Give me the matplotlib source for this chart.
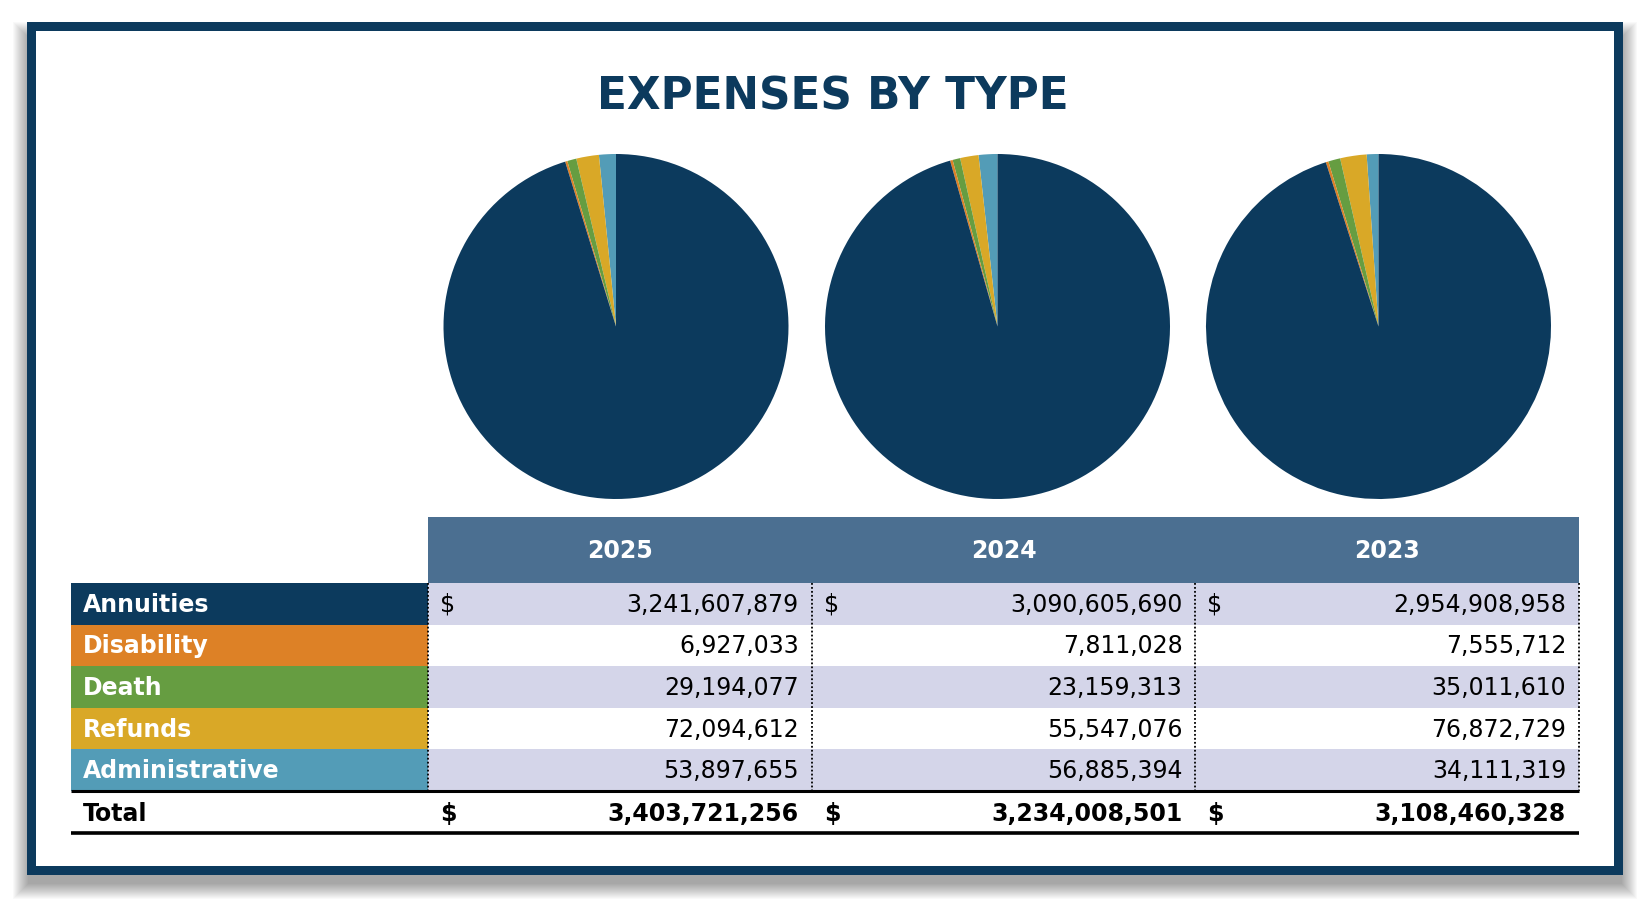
import matplotlib.pyplot as plt
from matplotlib.patches import Rectangle

# data
years = ['2025', '2024', '2023']
categories = ['Annuities', 'Disability', 'Death', 'Refunds', 'Administrative']
annuities = [3241607879, 3090605690, 2954908958]
disability = [6927033, 7811028, 7555712]
death = [29194077, 23159313, 35011610]
refunds = [72094612, 55547076, 76872729]
administrative = [53897655, 56885394, 34111319]
totals = [3403721256, 3234008501, 3108460328]

series = [annuities, disability, death, refunds, administrative]
colors = ['#0C3A5D', '#DD8126', '#669D41', '#D9A827', '#539CB7']
navy = '#0C3A5D'
header_color = '#4B6F91'
band_color = '#D4D5E9'

W, H = 1650, 916
fig = plt.figure(figsize=(W / 100, H / 100), dpi=100)
ax = fig.add_axes([0, 0, 1, 1])
ax.set_xlim(0, W)
ax.set_ylim(H, 0)
ax.axis('off')

# soft drop shadow behind the frame (stacked translucent rects)
fx0, fy0, fx1, fy1 = 27, 22, 1623, 875
for k in range(16, 0, -1):
    ax.add_patch(Rectangle((fx0 - k + 2, fy0 - k + 16), (fx1 - fx0) + 2 * k - 4, (fy1 - fy0) + 2 * k - 8,
                           facecolor='black', edgecolor='none', alpha=0.024, zorder=0))

# frame
ax.add_patch(Rectangle((fx0, fy0), fx1 - fx0, fy1 - fy0, facecolor=navy, edgecolor='none', zorder=1))
ax.add_patch(Rectangle((fx0 + 9, fy0 + 9), fx1 - fx0 - 18, fy1 - fy0 - 18, facecolor='white',
                       edgecolor='none', zorder=1))

ax.text(833, 97, 'EXPENSES BY TYPE', fontsize=31.5, fontweight='bold', color=navy,
        ha='center', va='center', zorder=3)

# pies
pie_cx = [616, 997.5, 1378.5]
pie_cy = 326.5
pie_r = 172.5
for i, cx in enumerate(pie_cx):
    pax = fig.add_axes([(cx - pie_r) / W, 1 - (pie_cy + pie_r) / H, 2 * pie_r / W, 2 * pie_r / H])
    vals = [s[i] for s in series][::-1]
    pax.pie(vals, colors=colors[::-1], startangle=90, counterclock=True, radius=1,
            wedgeprops=dict(linewidth=0))
    pax.set_xlim(-1, 1)
    pax.set_ylim(-1, 1)
    pax.set_aspect('equal')
    pax.axis('off')

# table
lx0 = 71
dx0 = 428
col_w = 383.7
hy0, hy1 = 517, 583
row_h = 41.6
fs = 17

ax.add_patch(Rectangle((dx0, hy0), 3 * col_w, hy1 - hy0, facecolor=header_color, edgecolor='none', zorder=2))
for j, yr in enumerate(years):
    ax.text(dx0 + (j + 0.5) * col_w, (hy0 + hy1) / 2 + 1, yr, fontsize=fs, fontweight='bold',
            color='white', ha='center', va='center', zorder=3)

for r, (cat, vals) in enumerate(zip(categories, series)):
    y0 = hy1 + r * row_h
    yc = y0 + row_h / 2 + 1
    ax.add_patch(Rectangle((lx0, y0), dx0 - lx0, row_h, facecolor=colors[r], edgecolor='none', zorder=2))
    ax.text(lx0 + 12, yc, cat, fontsize=fs, fontweight='bold', color='white', ha='left', va='center', zorder=3)
    if r % 2 == 0:
        ax.add_patch(Rectangle((dx0, y0), 3 * col_w, row_h, facecolor=band_color, edgecolor='none', zorder=2))
    for j in range(3):
        cx0 = dx0 + j * col_w
        if r == 0:
            ax.text(cx0 + 12, yc, '$', fontsize=fs, color='black', ha='left', va='center', zorder=3)
        ax.text(cx0 + col_w - 13, yc, f'{vals[j]:,}', fontsize=fs, color='black',
                ha='right', va='center', zorder=3)

body_bottom = hy1 + 5 * row_h
for j in range(4):
    x = dx0 + j * col_w
    ax.plot([x, x], [hy1, body_bottom], color='black', lw=1.3, linestyle=(0, (1, 1.2)), zorder=4)

tot_y1 = body_bottom + row_h
ax.plot([lx0, dx0 + 3 * col_w], [body_bottom, body_bottom], color='black', lw=2.2, zorder=4,
        solid_capstyle='butt')
ax.plot([lx0, dx0 + 3 * col_w], [tot_y1, tot_y1], color='black', lw=2.6, zorder=4,
        solid_capstyle='butt')
tyc = body_bottom + row_h / 2 + 2
ax.text(lx0 + 12, tyc, 'Total', fontsize=fs, fontweight='bold', color='black', ha='left', va='center', zorder=3)
for j in range(3):
    cx0 = dx0 + j * col_w
    ax.text(cx0 + 12, tyc, '$', fontsize=fs, fontweight='bold', color='black', ha='left', va='center', zorder=3)
    ax.text(cx0 + col_w - 13, tyc, f'{totals[j]:,}', fontsize=fs, fontweight='bold', color='black',
            ha='right', va='center', zorder=3)

fig.savefig('out.png', dpi=100)
